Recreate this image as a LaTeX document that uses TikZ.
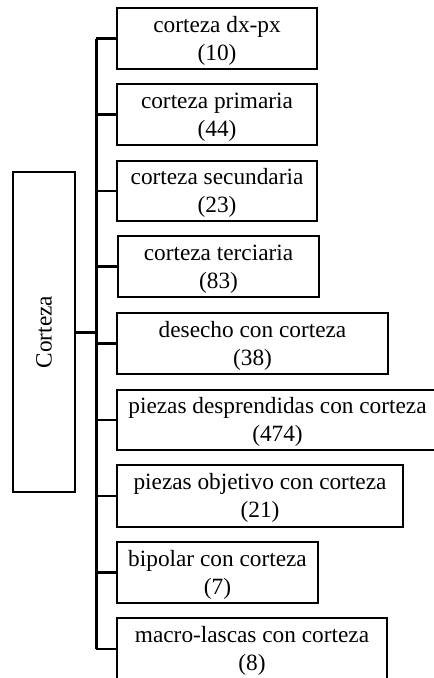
\documentclass[tikz,border=0pt]{standalone}
\usepackage{fontspec}
\setmainfont{Liberation Serif}
\tikzset{
  cbox/.style={draw=black, line width=2.2pt, inner sep=0pt, align=center,
    font=\fontsize{23.3}{28}\selectfont},
  branch/.style={line width=2.4pt},
  trunk/.style={line width=3pt}
}
\newcommand{\boxat}[6]{% name, left, top, right, bottom, text
  \node[cbox, minimum width={#4-#2}, minimum height={#5-#3}] (#1) at ({(#2+#4)/2},{(#3+#5)/2}) {\rule{0pt}{20pt}#6};
}
\begin{document}
\begin{tikzpicture}[x=1pt,y=-1pt]
\useasboundingbox (0,0) rectangle (434,678);
\clip (0,0) rectangle (434,678);
\node[cbox, minimum width=62pt, minimum height=320pt] (root) at (44,332) {};
\node[rotate=90, font=\fontsize{23.3}{28}\selectfont] (roottext) at (44,332) {Corteza};
\boxat{b1}{117}{8}{317}{69}{corteza dx-px\\(10)}
\boxat{b2}{117}{84}{317}{145}{corteza primaria\\(44)}
\boxat{b3}{117}{161}{317}{221}{corteza secundaria\\(23)}
\boxat{b4}{118}{236}{319}{297}{corteza terciaria\\(83)}
\boxat{b5}{117}{313}{388}{374}{desecho con corteza\\(38)}
\boxat{b6}{117}{390}{438}{450}{piezas desprendidas con corteza\\(474)}
\boxat{b7}{117}{465}{403}{527}{piezas objetivo con corteza\\(21)}
\boxat{b8}{117}{542}{318}{603}{bipolar con corteza\\(7)}
\boxat{b9}{117}{618}{387}{680}{macro-lascas con corteza\\(8)}
\coordinate (top) at (96,38.5);
\coordinate (bot) at (96,649);
\coordinate (mid) at (96,332);
\draw[trunk] (top) -- (bot);
\draw[trunk] (root.east) -- (mid);
\foreach \b in {b1,b2,b3,b4,b5,b6,b7,b8,b9}{
  \draw[branch] (\b.west) -- (\b.west -| top);
}
\end{tikzpicture}
\end{document}
